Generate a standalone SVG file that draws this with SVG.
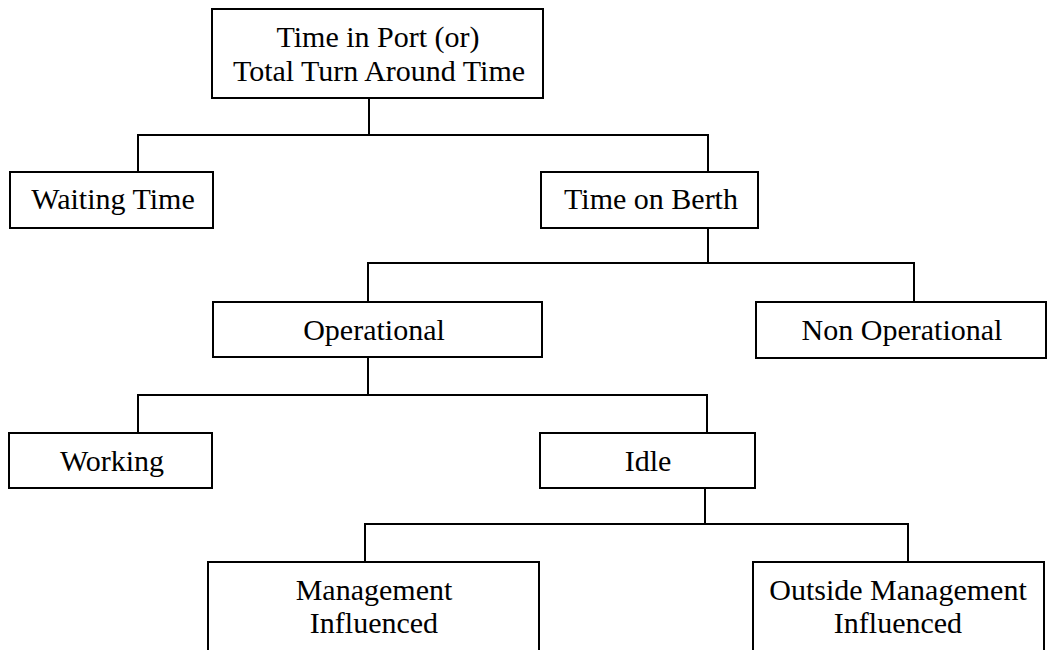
<svg xmlns="http://www.w3.org/2000/svg" width="1047" height="650" viewBox="0 0 1047 650">
<style>
.box{fill:#fff;stroke:#000;stroke-width:2}
.lbl{font-family:"Liberation Serif","Times New Roman",serif;font-size:30px;fill:#000;text-anchor:middle}
.conn{fill:none;stroke:#000;stroke-width:2}
</style>
<rect width="1047" height="650" fill="#fff"/>
<g id="connectors">
<polyline class="conn" points="369,98 369,135"/>
<polyline class="conn" points="138,172 138,135 708,135 708,172"/>
<polyline class="conn" points="708,228 708,263"/>
<polyline class="conn" points="368,302 368,263 914,263 914,302"/>
<polyline class="conn" points="368,357 368,395"/>
<polyline class="conn" points="138,433 138,395 707,395 707,433"/>
<polyline class="conn" points="705,488 705,524"/>
<polyline class="conn" points="365,562 365,524 908,524 908,562"/>
</g>
<g id="node-root">
<rect class="box" x="212" y="9" width="331" height="89"/>
<text class="lbl" x="378" y="47">Time in Port (or)</text>
<text class="lbl" x="379" y="81">Total Turn Around Time</text>
</g>
<g id="node-waiting">
<rect class="box" x="10" y="172" width="203" height="56"/>
<text class="lbl" x="113" y="209">Waiting Time</text>
</g>
<g id="node-berth">
<rect class="box" x="541" y="172" width="217" height="56"/>
<text class="lbl" x="651" y="209">Time on Berth</text>
</g>
<g id="node-operational">
<rect class="box" x="213" y="302" width="329" height="55"/>
<text class="lbl" x="374" y="340">Operational</text>
</g>
<g id="node-nonoperational">
<rect class="box" x="756" y="302" width="290" height="56"/>
<text class="lbl" x="902" y="340">Non Operational</text>
</g>
<g id="node-working">
<rect class="box" x="9" y="433" width="203" height="55"/>
<text class="lbl" x="112" y="471">Working</text>
</g>
<g id="node-idle">
<rect class="box" x="540" y="433" width="215" height="55"/>
<text class="lbl" x="648" y="471">Idle</text>
</g>
<g id="node-management">
<rect class="box" x="208" y="562" width="331" height="100"/>
<text class="lbl" x="374" y="600">Management</text>
<text class="lbl" x="374" y="633">Influenced</text>
</g>
<g id="node-outside">
<rect class="box" x="753" y="562" width="291" height="100"/>
<text class="lbl" x="898" y="600">Outside Management</text>
<text class="lbl" x="898" y="633">Influenced</text>
</g>
</svg>
